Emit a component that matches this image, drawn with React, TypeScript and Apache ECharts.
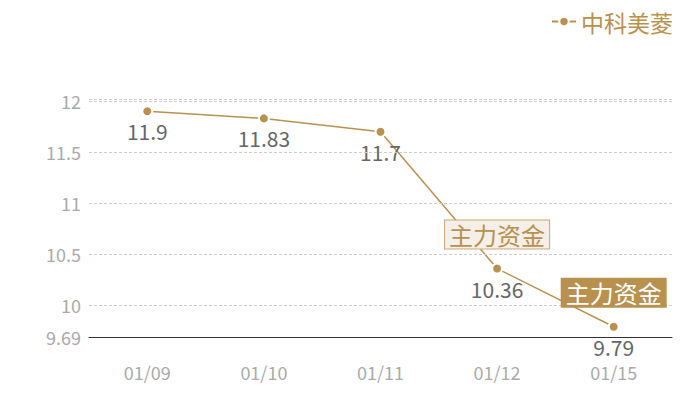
import React, { useEffect, useRef } from 'react'
import * as echarts from 'echarts'

const dates = ['01/09', '01/10', '01/11', '01/12', '01/15']
const prices = [11.9, 11.83, 11.7, 10.36, 9.79]
const yTicks = [9.69, 10, 10.5, 11, 11.5, 12]
const gridValues = [10, 10.5, 11, 11.5, 12, 12.02]
const flags = [
  { date: '01/12', value: 10.36, name: '主力资金', dark: false },
  { date: '01/15', value: 9.79, name: '主力资金', dark: true }
]

const GOLD = '#b8914f'
const FONT = '"Noto Sans CJK SC", "Noto Sans", sans-serif'

const App: React.FC = () => {
  const chartRef = useRef<HTMLDivElement>(null)

  useEffect(() => {
    document.body.style.margin = '0'
    if (!chartRef.current) return
    const chart = echarts.init(chartRef.current, null, { renderer: 'svg' })

    const option: echarts.EChartsOption = {
      animation: false,
      textStyle: { fontFamily: FONT },
      legend: {
        right: 22,
        top: 5,
        itemWidth: 24,
        itemHeight: 12,
        itemGap: 8,
        textStyle: { color: GOLD, fontSize: 23, fontFamily: FONT },
        data: ['中科美菱']
      },
      grid: { left: 89, right: 28, top: 99, bottom: 63 },
      xAxis: {
        type: 'category',
        data: dates,
        boundaryGap: true,
        axisLine: { lineStyle: { color: '#333', width: 1 } },
        axisTick: { show: false },
        axisLabel: { color: '#aaa', fontSize: 18, margin: 26, lineHeight: 18, fontFamily: FONT }
      },
      yAxis: {
        type: 'value',
        min: 9.69,
        max: 12.02,
        axisLine: { show: false },
        axisTick: { show: false },
        splitLine: { show: false },
        axisLabel: {
          customValues: yTicks,
          color: '#aaa',
          fontSize: 18,
          margin: 8,
          fontFamily: FONT,
          formatter: (v: number) => String(Math.round(v * 100) / 100)
        }
      },
      series: [
        {
          name: '中科美菱',
          type: 'line',
          data: prices,
          symbol: 'circle',
          symbolSize: 10,
          itemStyle: { color: GOLD, borderColor: '#fff', borderWidth: 2 },
          lineStyle: { color: GOLD, width: 1.5 },
          label: {
            show: true,
            position: 'bottom',
            distance: 4,
            color: '#666',
            fontSize: 21,
            lineHeight: 20,
            fontFamily: FONT
          },
          markLine: {
            silent: true,
            symbol: 'none',
            label: { show: false },
            lineStyle: { color: '#ccc', type: [3, 2], width: 1 },
            data: gridValues.map(v => ({ yAxis: v }))
          },
          markPoint: {
            symbol: 'circle',
            symbolSize: 1,
            itemStyle: { color: 'rgba(0,0,0,0)' },
            data: flags.map(f => ({
              name: f.name,
              coord: [f.date, f.value],
              label: {
                show: true,
                formatter: f.name,
                position: 'inside',
                offset: [0, -34],
                fontSize: 24,
                fontFamily: FONT,
                color: f.dark ? '#fff' : GOLD,
                backgroundColor: f.dark ? GOLD : '#f4efe8',
                borderColor: f.dark ? GOLD : '#c9a872',
                borderWidth: 1,
                padding: [2, 4, 2, 4]
              }
            }))
          }
        }
      ]
    }

    chart.setOption(option)
    return () => chart.dispose()
  }, [])

  return <div ref={chartRef} style={{ width: 700, height: 400 }} />
}

export default App
